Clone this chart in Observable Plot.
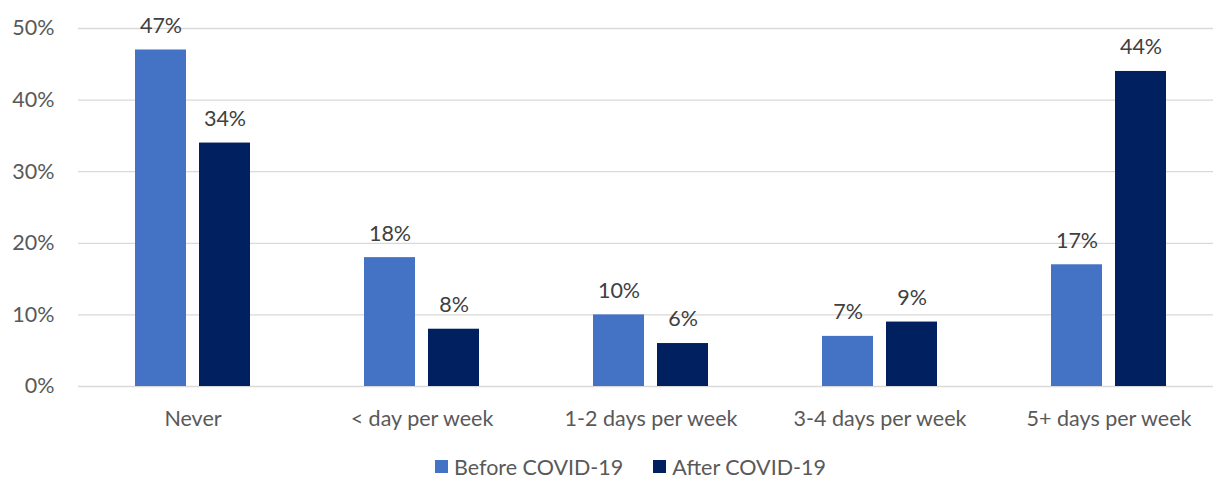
<!DOCTYPE html>
<html>
<head>
<meta charset="utf-8">
<script src="https://cdn.jsdelivr.net/npm/d3@7"></script>
<script src="https://cdn.jsdelivr.net/npm/@observablehq/plot@0.6"></script>
<style>
  html, body { margin: 0; padding: 0; background: #fff; overflow: hidden; }
  #chart { width: 1213px; font-family: Lato, "Open Sans", sans-serif; color: #595959; }
  .legend { display: flex; justify-content: center; align-items: center; gap: 30px; height: 39px; margin-top: 7px; font-size: 21.5px; padding-left: 48px; }
  .legend span.item { display: inline-flex; align-items: center; gap: 6px; }
  .legend i { display: inline-block; width: 13px; height: 13px; }
</style>
</head>
<body>
<div id="chart"></div>
<script>
// Frequency categories along the x axis
const categories = ["Never", "< day per week", "1-2 days per week", "3-4 days per week", "5+ days per week"];
// Series names and their colours
const seriesNames = ["Before COVID-19", "After COVID-19"];
const seriesColors = ["#4472C4", "#002060"];
// Share of respondents (%) for each category
const beforeValues = [47, 18, 10, 7, 17];
const afterValues = [34, 8, 6, 9, 44];
// Y-axis ticks (%)
const yTicks = [0, 10, 20, 30, 40, 50];

const rows = categories.flatMap((c, i) => [
  {category: c, series: seriesNames[0], value: beforeValues[i]},
  {category: c, series: seriesNames[1], value: afterValues[i]}
]);

const chart = Plot.plot({
  width: 1213,
  height: 440,
  marginLeft: 77,
  marginRight: -11,
  marginTop: 28,
  marginBottom: 54,
  style: {fontFamily: "Lato, 'Open Sans', sans-serif", fontSize: "21.5px", color: "#595959", background: "#fff"},
  fx: {domain: categories, padding: 0, label: null, tickSize: 0, tickPadding: 24},
  x: {domain: seriesNames, axis: null, paddingInner: 0.2, paddingOuter: 0.8646},
  y: {domain: [0, 50], ticks: yTicks, tickFormat: d => d + "%", tickSize: 0, tickPadding: 24, label: null},
  color: {domain: seriesNames, range: seriesColors},
  marks: [
    Plot.ruleY(yTicks, {stroke: "#d9d9d9", strokeWidth: 1.3}),
    Plot.barY(rows, {fx: "category", x: "series", y: "value", fill: "series"}),
    Plot.text(rows, {fx: "category", x: "series", y: "value", text: d => d.value + "%", dy: -24, fill: "#404040", fontSize: 21.5})
  ]
});

const root = document.getElementById("chart");
root.appendChild(chart);

const legend = document.createElement("div");
legend.className = "legend";
seriesNames.forEach((name, i) => {
  const item = document.createElement("span");
  item.className = "item";
  const sw = document.createElement("i");
  sw.style.background = seriesColors[i];
  item.appendChild(sw);
  item.appendChild(document.createTextNode(name));
  legend.appendChild(item);
});
root.appendChild(legend);
</script>
</body>
</html>
